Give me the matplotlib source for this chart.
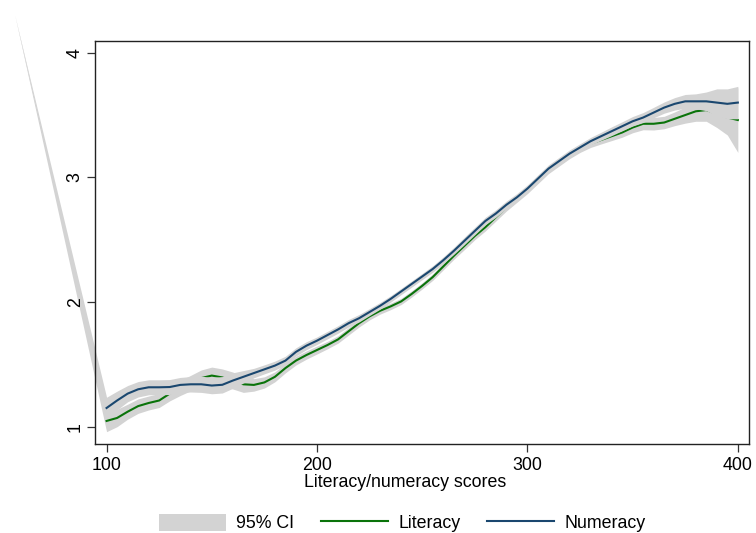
import matplotlib
matplotlib.use("Agg")
import matplotlib.pyplot as plt
from matplotlib.patches import Patch
from matplotlib.lines import Line2D

plt.rcParams['font.family'] = ['Liberation Sans', 'DejaVu Sans']

# ---- data ----
scores = list(range(100, 405, 5))

literacy = [1.046, 1.07, 1.12, 1.165, 1.19, 1.21, 1.265, 1.31, 1.35, 1.39,
            1.41, 1.395, 1.37, 1.34, 1.335, 1.355, 1.40, 1.47, 1.53, 1.575,
            1.615, 1.655, 1.70, 1.765, 1.83, 1.885, 1.93, 1.965, 2.005, 2.065,
            2.13, 2.20, 2.285, 2.37, 2.45, 2.53, 2.60, 2.68, 2.76, 2.83,
            2.90, 2.98, 3.06, 3.12, 3.18, 3.23, 3.27, 3.30, 3.33, 3.36,
            3.40, 3.43, 3.43, 3.44, 3.47, 3.50, 3.53, 3.54, 3.51, 3.48,
            3.46]

numeracy = [1.15, 1.21, 1.265, 1.30, 1.316, 1.316, 1.318, 1.335, 1.34, 1.34,
            1.33, 1.336, 1.37, 1.40, 1.43, 1.46, 1.49, 1.53, 1.60, 1.65,
            1.69, 1.735, 1.78, 1.83, 1.87, 1.92, 1.97, 2.025, 2.085, 2.145,
            2.205, 2.265, 2.335, 2.41, 2.49, 2.57, 2.65, 2.71, 2.78, 2.84,
            2.91, 2.99, 3.07, 3.13, 3.19, 3.24, 3.29, 3.33, 3.37, 3.41,
            3.45, 3.48, 3.52, 3.56, 3.59, 3.61, 3.61, 3.61, 3.60, 3.59,
            3.60]

# half-widths of the 95% confidence bands
literacy_hw = [0.086, 0.07, 0.06, 0.058, 0.056, 0.056, 0.058, 0.06, 0.062, 0.065,
               0.068, 0.068, 0.068, 0.065, 0.05, 0.045, 0.04, 0.038, 0.035, 0.033,
               0.032, 0.03, 0.03, 0.03, 0.03, 0.028, 0.027, 0.026, 0.025, 0.025,
               0.025, 0.026, 0.027, 0.028, 0.03, 0.03, 0.03, 0.03, 0.03, 0.03,
               0.03, 0.03, 0.03, 0.03, 0.03, 0.03, 0.03, 0.032, 0.035, 0.038,
               0.042, 0.048, 0.05, 0.05, 0.055, 0.065, 0.08, 0.09, 0.11, 0.14,
               0.26]
numeracy_hw = [0.086, 0.075, 0.065, 0.062, 0.06, 0.06, 0.06, 0.06, 0.062, 0.065,
               0.066, 0.066, 0.062, 0.05, 0.038, 0.036, 0.036, 0.035, 0.033, 0.032,
               0.03, 0.03, 0.03, 0.03, 0.03, 0.028, 0.027, 0.026, 0.025, 0.025,
               0.025, 0.026, 0.027, 0.028, 0.03, 0.03, 0.03, 0.03, 0.03, 0.03,
               0.03, 0.03, 0.03, 0.03, 0.03, 0.03, 0.03, 0.032, 0.035, 0.036,
               0.038, 0.04, 0.042, 0.045, 0.05, 0.055, 0.06, 0.075, 0.11, 0.12,
               0.13]

# stray first observation of the CI series (drawn outside the plot region)
stray_x = 56.4
stray_y = 4.30

x_ticks = [100, 200, 300, 400]
y_ticks = [1, 2, 3, 4]
x_label = "Literacy/numeracy scores"
legend_labels = ["95% CI", "Literacy", "Numeracy"]

ci_color = "#d3d3d3"
lit_color = "#0a730a"
num_color = "#1a476f"

# ---- figure ----
fig = plt.figure(figsize=(7.56, 5.33), dpi=100)
ax = fig.add_axes([95 / 756, 1 - 444 / 533, (749 - 95) / 756, (444 - 41) / 533])

ci_x = [stray_x] + scores
lit_lo = [stray_y] + [v - h for v, h in zip(literacy, literacy_hw)]
lit_hi = [stray_y] + [v + h for v, h in zip(literacy, literacy_hw)]
num_lo = [stray_y] + [v - h for v, h in zip(numeracy, numeracy_hw)]
num_hi = [stray_y] + [v + h for v, h in zip(numeracy, numeracy_hw)]

ax.fill_between(ci_x, lit_lo, lit_hi, color=ci_color, lw=0, zorder=1, clip_on=False)
ax.plot(scores, literacy, color=lit_color, lw=1.5, zorder=2)
ax.fill_between(ci_x, num_lo, num_hi, color=ci_color, lw=0, zorder=3, clip_on=False)
ax.plot(scores, numeracy, color=num_color, lw=1.5, zorder=4)

ax.set_xlim(94.5, 405.3)
ax.set_ylim(0.861, 4.094)
ax.set_xticks(x_ticks)
ax.set_yticks(y_ticks)

fs = 12.8
ax.tick_params(axis='both', length=5.5, width=0.9, color='#333333', labelsize=fs)
ax.tick_params(axis='x', pad=4.2)
ax.tick_params(axis='y', pad=2.6)
for lab in ax.get_yticklabels():
    lab.set_rotation(90)
    lab.set_va('center')
ax.set_xlabel(x_label, fontsize=fs, labelpad=0.5)
ax.xaxis.set_label_coords((404.7 - 95) / 654, -0.075)
ax.xaxis.label.set_va('top')

for s in ax.spines.values():
    s.set_color('#222222')
    s.set_linewidth(1.0)
    s.set_zorder(5)

handles = [Patch(facecolor=ci_color, edgecolor='none'),
           Line2D([], [], color=lit_color, lw=1.5),
           Line2D([], [], color=num_color, lw=1.5)]
fig.legend(handles, legend_labels, loc='center', bbox_to_anchor=(402.5 / 756, 1 - 523 / 533),
           ncol=3, frameon=False, fontsize=fs, handlelength=3.76, handleheight=1.15,
           handletextpad=0.6, columnspacing=1.5, borderaxespad=0, borderpad=0)

fig.savefig("out.png", dpi=100)
